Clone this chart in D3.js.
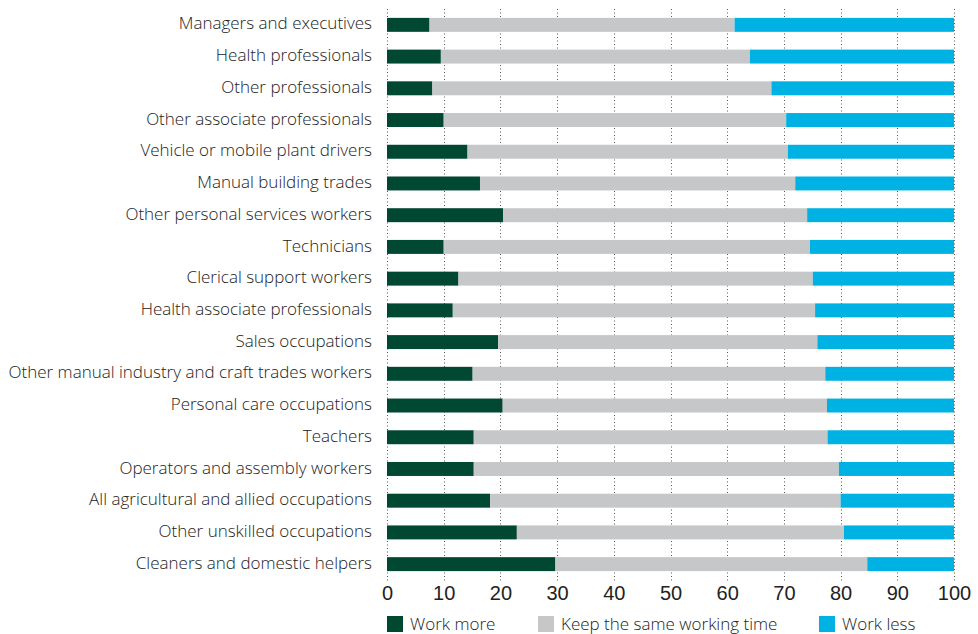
<!DOCTYPE html>
<html>
<head>
<meta charset="utf-8">
<script src="https://cdn.jsdelivr.net/npm/d3@7"></script>
<style>
  body { margin: 0; background: #fff; }
  svg { display: block; font-family: "Open Sans", sans-serif; font-weight: 300; }
</style>
</head>
<body>
<div id="chart"></div>
<script>
// occupations, top to bottom
const categories = [
  "Managers and executives",
  "Health professionals",
  "Other professionals",
  "Other associate professionals",
  "Vehicle or mobile plant drivers",
  "Manual building trades",
  "Other personal services workers",
  "Technicians",
  "Clerical support workers",
  "Health associate professionals",
  "Sales occupations",
  "Other manual industry and craft trades workers",
  "Personal care occupations",
  "Teachers",
  "Operators and assembly workers",
  "All agricultural and allied occupations",
  "Other unskilled occupations",
  "Cleaners and domestic helpers"
];

// % of workers in each group
const workMore = [7.5, 9.5, 8.0, 10.0, 14.2, 16.4, 20.5, 10.0, 12.6, 11.6, 19.6, 15.1, 20.4, 15.3, 15.3, 18.2, 22.9, 29.7];
const keepSame = [53.8, 54.5, 59.8, 60.4, 56.5, 55.6, 53.6, 64.6, 62.5, 63.9, 56.3, 62.2, 57.2, 62.4, 64.4, 61.8, 57.7, 55.0];
const workLess = [38.7, 36.0, 32.2, 29.6, 29.3, 28.0, 25.9, 25.4, 24.9, 24.5, 24.1, 22.7, 22.4, 22.3, 20.3, 20.0, 19.4, 15.3];

const seriesKeys = ["Work more", "Keep the same working time", "Work less"];
const seriesColors = ["#004832", "#c6c7c8", "#00b2e3"];
const xTicks = [0, 10, 20, 30, 40, 50, 60, 70, 80, 90, 100];

const rows = categories.map((name, i) => ({
  name,
  "Work more": workMore[i],
  "Keep the same working time": keepSame[i],
  "Work less": workLess[i]
}));

const width = 978, height = 634;
const marginLeft = 387, marginRight = 24, marginTop = 9, marginBottom = 54;

const x = d3.scaleLinear()
  .domain([0, 100])
  .range([marginLeft, width - marginRight]);

const y = d3.scaleBand()
  .domain(categories)
  .range([marginTop, height - marginBottom])
  .paddingInner(0.56)
  .paddingOuter(0.28);

const color = d3.scaleOrdinal(seriesKeys, seriesColors);

const stacked = d3.stack().keys(seriesKeys)(rows);

const svg = d3.create("svg")
  .attr("width", width)
  .attr("height", height)
  .attr("viewBox", [0, 0, width, height]);

// dotted vertical grid lines
svg.append("g")
  .attr("stroke", "#555")
  .attr("stroke-width", 1)
  .attr("stroke-dasharray", "1,2.5")
  .selectAll("line")
  .data(xTicks)
  .join("line")
  .attr("x1", d => Math.round(x(d)) + 0.5)
  .attr("x2", d => Math.round(x(d)) + 0.5)
  .attr("y1", marginTop)
  .attr("y2", height - marginBottom + 2);

// stacked bars
svg.append("g")
  .selectAll("g")
  .data(stacked)
  .join("g")
  .attr("fill", d => color(d.key))
  .selectAll("rect")
  .data(d => d)
  .join("rect")
  .attr("x", d => x(d[0]))
  .attr("y", d => y(d.data.name))
  .attr("width", d => x(d[1]) - x(d[0]))
  .attr("height", y.bandwidth());

// category labels
svg.append("g")
  .attr("font-size", 17)
  .attr("fill", "#222")
  .attr("text-anchor", "end")
  .selectAll("text")
  .data(categories)
  .join("text")
  .attr("x", marginLeft - 15)
  .attr("y", d => y(d) + y.bandwidth() / 2)
  .attr("dy", "0.27em")
  .text(d => d);

// x axis labels
const xAxis = svg.append("g")
  .attr("transform", `translate(0,${height - marginBottom})`)
  .call(d3.axisBottom(x).tickValues(xTicks).tickSize(0));
xAxis.select(".domain").remove();
xAxis.selectAll("text")
  .attr("font-family", null)
  .attr("font-size", 20)
  .attr("fill", "#222")
  .attr("y", 20)
  .attr("dy", 0);

// legend
const legendX = [387, 538, 819];
const legend = svg.append("g")
  .selectAll("g")
  .data(seriesKeys)
  .join("g")
  .attr("transform", (d, i) => `translate(${legendX[i]},616)`);
legend.append("rect")
  .attr("width", 16)
  .attr("height", 16)
  .attr("fill", d => color(d));
legend.append("text")
  .attr("x", 23)
  .attr("y", 13.5)
  .attr("font-size", 17)
  .attr("fill", "#222")
  .text(d => d);

document.getElementById("chart").appendChild(svg.node());
</script>
</body>
</html>
